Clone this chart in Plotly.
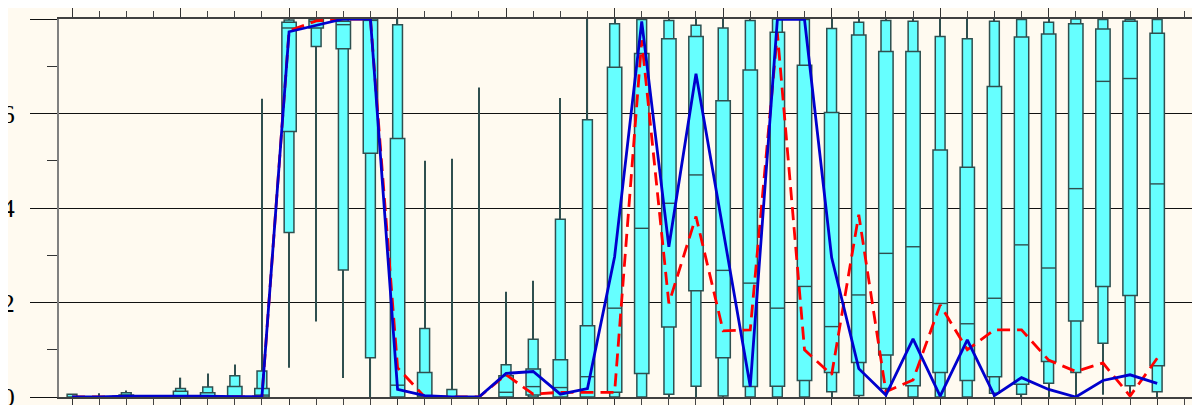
import plotly.graph_objects as go

# ---- data ----
cats = list(range(41))

w_min = [None, 0, 0, None, 0, 0, 0, 0, 0.62, 1.60, 0.40, 0, 0, 0, 0, 0, 0, 0, 0, 0,
         0, 0, 0, 0, 0, 0, 0, 0, 0, 0, 0, 0, 0, 0, 0, 0, 0, 0, 0.05, 0, 0]
w_max = [None, 0.08, 0.14, None, 0.41, 0.50, 0.69, 6.31, 8.0, 8.0, 8.0, 8.0, 8.0, 5.0, 5.04, 6.55,
         2.23, 2.46, 6.33, 8.0, 8.0, 8.0, 8.0, 8.0, 8.0, 8.0, 8.0, 8.0, 8.0, 8.0, 8.0, 8.0,
         8.0, 8.0, 8.0, 8.0, 8.0, 8.0, 8.0, 8.0, 8.0]
p10 = [0, None, 0, None, 0, 0, 0, 0, 3.48, 7.42, 2.69, 0.83, 0, 0, 0, None,
       0, 0, 0, 0, 0, 0, 0.06, 0.23, 0.02, 0, 0, 0, 0.11, 0.03, 0.18, 0,
       0, 0, 0.08, 0.06, 0.29, 0.52, 1.14, 0.24, 0.11]
p90 = [0.06, None, 0.09, None, 0.18, 0.21, 0.45, 0.55, 7.98, 8.0, 7.99, 8.0, 7.88, 1.45, 0.16, None,
       0.68, 1.22, 3.76, 5.87, 7.90, 7.99, 7.97, 7.87, 7.81, 7.97, 8.0, 7.99, 7.80, 7.93, 7.97, 7.95,
       7.63, 7.58, 7.95, 7.99, 7.93, 8.0, 7.99, 7.99, 7.99]
q1 = [None, None, 0, None, 0, 0, 0, 0, 5.62, 7.81, 7.37, 5.16, 0, 0, None, None,
      0, 0.04, 0, 0, 0.10, 0.50, 1.48, 2.25, 0.83, 0.22, 0.23, 0.35, 0.52, 0.73, 0.89, 0.24,
      0.52, 0.35, 0.43, 0.27, 0.75, 1.61, 2.34, 2.15, 0.66]
q3 = [None, None, 0.04, None, 0.12, 0.09, 0.22, 0.18, 7.93, 7.99, 7.95, 8.0, 5.47, 0.52, None, None,
      0.45, 0.59, 0.79, 1.51, 6.98, 7.27, 7.58, 7.63, 6.27, 6.92, 7.72, 7.02, 6.02, 7.66, 7.31, 7.31,
      5.23, 4.86, 6.57, 7.62, 7.68, 7.90, 7.79, 7.95, 7.70]
med = [None, None, 0.01, None, 0.02, 0.02, 0.02, 0.04, 7.81, 7.95, 7.88, 7.97, 0.25, 0.02, None, None,
       0.10, 0.22, 0.20, 0.43, 1.88, 3.57, 4.10, 4.70, 2.68, 2.41, 1.88, 2.34, 1.49, 2.16, 3.04, 3.18,
       1.98, 1.55, 2.09, 3.22, 2.73, 4.41, 6.68, 6.74, 4.51]

blue_vals = [0, 0, 0.02, 0.02, 0.03, 0.02, 0.01, 0.01, 7.73, 7.87, 8.0, 8.0, 0.16, 0.03, 0, 0,
             0.50, 0.54, 0.06, 0.18, 2.97, 7.95, 3.18, 6.84, 3.53, 0.22, 7.99, 7.99, 2.95, 0.60,
             0.04, 1.23, 0.02, 1.21, 0.03, 0.41, 0.16, 0.0, 0.35, 0.47, 0.29]
red_vals = [0, 0, 0.01, 0.01, 0.01, 0.01, 0, 0, 7.75, 7.96, 8.0, 8.0, 0.62, 0.0, 0, 0,
            0.47, 0.06, 0.10, 0.10, 0.10, 7.55, 1.98, 3.82, 1.40, 1.42, 7.70, 1.0, 0.47, 3.86,
            0.11, 0.36, 1.95, 1.0, 1.42, 1.42, 0.78, 0.54, 0.72, 0.02, 0.82]

# ---- styles ----
FILL = "#66ffff"
EDGE = "#2f4f4f"
WIDE = 0.53
NARROW = 0.36
BG = "#fffaf0"


def span(lo, hi):
    return [None if (a is None or b is None) else b - a for a, b in zip(lo, hi)]


fig = go.Figure()

fig.add_trace(go.Bar(x=cats, base=w_min, y=span(w_min, w_max), width=0.045,
                     marker=dict(color=EDGE, line=dict(width=0)), hoverinfo="skip"))
fig.add_trace(go.Bar(x=cats, base=p10, y=span(p10, p90), width=NARROW,
                     marker=dict(color=FILL, line=dict(color=EDGE, width=1.5)), hoverinfo="skip"))
fig.add_trace(go.Bar(x=cats, base=q1, y=span(q1, q3), width=WIDE,
                     marker=dict(color=FILL, line=dict(color=EDGE, width=1.5)), hoverinfo="skip"))

mx, my = [], []
for c, m in zip(cats, med):
    if m is None:
        continue
    mx += [c - WIDE / 2, c + WIDE / 2, None]
    my += [m, m, None]
fig.add_trace(go.Scatter(x=mx, y=my, mode="lines", line=dict(color=EDGE, width=1.4),
                         hoverinfo="skip"))

fig.add_trace(go.Scatter(x=cats, y=red_vals, mode="lines", cliponaxis=False,
                         line=dict(color="#ff0000", width=2.8, dash="13px,7px")))
fig.add_trace(go.Scatter(x=cats, y=blue_vals, mode="lines", cliponaxis=False,
                         line=dict(color="#0000cd", width=2.8)))
fig.add_trace(go.Scatter(x=[None], y=[None], xaxis="x2", hoverinfo="skip"))

XR = [-0.48, 41.32]
fig.update_layout(
    width=1200, height=405,
    margin=dict(l=51, r=15, t=11, b=16, autoexpand=False),
    paper_bgcolor=BG, plot_bgcolor=BG,
    showlegend=False, barmode="overlay",
    xaxis=dict(range=XR, tickmode="linear", tick0=0, dtick=4, ticks="outside", ticklen=27,
               tickcolor="#333333", tickwidth=1, showticklabels=False, showgrid=False,
               zeroline=False, showline=True, linecolor="#404040", linewidth=1.5,
               automargin=False,
               minor=dict(dtick=1, tick0=0, ticks="outside", ticklen=11, tickcolor="#444444",
                          showgrid=False)),
    xaxis2=dict(range=XR, overlaying="x", side="top", anchor="y", tickmode="linear", tick0=0,
                dtick=4, ticks="outside", ticklen=27, tickcolor="#333333", showticklabels=False,
                showgrid=False, zeroline=False, showline=True, linecolor="#404040", linewidth=1.5,
                automargin=False,
                minor=dict(dtick=1, tick0=0, ticks="outside", ticklen=6, tickcolor="#444444",
                           showgrid=False)),
    yaxis=dict(range=[0, 8], tickmode="linear", tick0=0, dtick=2, ticks="outside", ticklen=27,
               tickcolor="#111111", showgrid=True, gridcolor="#111111", gridwidth=1,
               zeroline=False, showline=True, linecolor="#808080", linewidth=2, mirror="ticks",
               ticklabelstandoff=10, automargin=False,
               tickfont=dict(family="Liberation Serif", size=26, color="#000000"),
               minor=dict(dtick=1, tick0=0, ticks="outside", ticklen=10, tickcolor="#333333",
                          showgrid=False)),
)

fig.write_html("out.html")
